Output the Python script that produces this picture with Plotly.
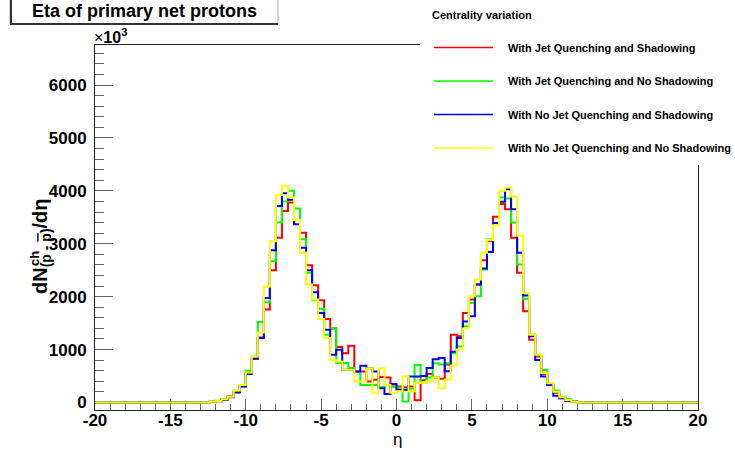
import numpy as np
import plotly.graph_objects as go

# ---------------- data ----------------
eta_lo, eta_hi, n_bins = -20.0, 20.0, 100
first_nonzero_bin = 19          # bin starting at eta = -12.4 (bins of width 0.4)

series_names = [
    "With Jet Quenching and Shadowing",
    "With Jet Quenching and No Shadowing",
    "With No Jet Quenching and Shadowing",
    "With No Jet Quenching and No Shadowing",
]
series_colors = ["#ff0000", "#00ff00", "#0000ff", "#ffff00"]

jq_sh = [10, 30, 60, 120, 200, 330, 560, 820, 1230, 1755, 2500, 3115, 3620, 3780, 3450, 3210,
         2595, 2215, 1930, 1580, 1400, 1050, 930, 1070, 585, 585, 395, 430, 480, 470, 300,
         300, 290, 300, 40, 420, 540, 470, 450, 720, 1280, 1250, 1690, 1945, 2230, 2690,
         3050, 3510, 3750, 3650, 3115, 2450, 1725, 1185, 870, 540, 330, 185, 80, 35, 16, 5]
jq_nosh = [15, 35, 55, 110, 220, 300, 600, 870, 1520, 1895, 2670, 3400, 3800, 4000, 3665, 3085,
           2450, 1930, 1770, 1280, 1400, 745, 745, 650, 585, 330, 330, 330, 290, 330, 300,
           280, 20, 260, 710, 380, 470, 740, 720, 740, 930, 1060, 1440, 1880, 2010, 2515,
           3080, 3390, 3875, 3855, 3400, 2610, 1960, 1280, 900, 615, 365, 225, 110, 60, 22, 8]
nojq_sh = [12, 25, 50, 100, 190, 300, 540, 830, 1220, 1975, 2875, 3715, 3955, 3830, 3370, 2925,
           2500, 2085, 1690, 1376, 900, 996, 617, 617, 585, 693, 648, 585, 270, 160, 350,
           240, 240, 490, 490, 500, 650, 815, 840, 590, 960, 1220, 1530, 1630, 2230, 2530,
           2845, 3390, 3795, 4030, 3650, 2830, 2020, 1250, 805, 490, 330, 125, 80, 35, 16, 5]
nojq_nosh = [15, 30, 60, 110, 225, 330, 565, 870, 1325, 2185, 3045, 3920, 4095, 3875, 3450, 2830,
             2230, 1945, 1580, 1220, 800, 775, 617, 617, 395, 395, 648, 186, 648, 332, 186,
             210, 490, 210, 370, 380, 400, 470, 270, 430, 700, 1000, 1400, 2010, 2325, 2830,
             3070, 3350, 4000, 4065, 3895, 3150, 2070, 1280, 900, 555, 365, 205, 98, 47, 16, 5]
series_values = [jq_sh, jq_nosh, nojq_sh, nojq_nosh]

x_tick_vals = [-20, -15, -10, -5, 0, 5, 10, 15, 20]
x_tick_text = ["-20", "-15", "-10", "-5", "0", "5", "10", "15", "20"]
y_tick_vals = [0, 1000, 2000, 3000, 4000, 5000, 6000]
y_tick_text = ["0", "1000", "2000", "3000", "4000", "5000", "6000"]
x_minor_step, y_minor_step = 1, 200
y_range = [-142, 6756]

# ---------------- layout geometry ----------------
W, H = 735, 450
ML, MR, MT, MB = 95, 37, 45, 40
PW, PH = W - ML - MR, H - MT - MB
FONT = "Liberation Sans"


def px(xp):
    return (xp - ML) / PW


def py(yp):
    return (H - MB - yp) / PH


edges = np.linspace(eta_lo, eta_hi, n_bins + 1)

fig = go.Figure()
for name, col, vals in zip(series_names, series_colors, series_values):
    full = np.zeros(n_bins)
    full[first_nonzero_bin:first_nonzero_bin + len(vals)] = vals
    # explicit step outline (left edge / right edge of every bin)
    xs = np.repeat(edges, 2)[1:-1]
    ys = np.repeat(full, 2)
    fig.add_trace(go.Scatter(
        x=xs, y=ys, mode="lines", name=name,
        line=dict(color=col, width=2, shape="linear", simplify=False),
        showlegend=False, cliponaxis=False,
    ))

axis_common = dict(
    showline=True, linecolor="#222", linewidth=1, mirror=True,
    ticks="inside", tickcolor="#666", tickwidth=1, layer="below traces",
    showgrid=False, zeroline=False, tickmode="array",
    tickfont=dict(family=FONT, size=17, color="black", weight=700),
)
fig.update_xaxes(range=[eta_lo, eta_hi], tickvals=x_tick_vals, ticktext=x_tick_text, ticklen=11,
                 minor=dict(tick0=0, dtick=x_minor_step, ticks="inside", ticklen=6, tickcolor="#666"),
                 ticklabelstandoff=-5, **axis_common)
fig.update_yaxes(range=y_range, tickvals=y_tick_vals, ticktext=y_tick_text, ticklen=18,
                 minor=dict(tick0=0, dtick=y_minor_step, ticks="inside", ticklen=9, tickcolor="#666"),
                 ticklabelstandoff=4, **axis_common)

shapes = []
# white legend pad covering the frame corner
shapes.append(dict(type="rect", xref="paper", yref="paper", x0=px(420), x1=px(740),
                   y0=py(165), y1=py(-5), fillcolor="white", line=dict(width=0), layer="above"))
# title pave
shapes.append(dict(type="rect", xref="paper", yref="paper", x0=px(10), x1=px(278),
                   y0=py(24), y1=py(-5), fillcolor="white", line=dict(color="#aaaaaa", width=1),
                   layer="above"))
shapes.append(dict(type="line", xref="paper", yref="paper", x0=px(11), x1=px(11),
                   y0=py(24), y1=py(0), line=dict(color="#333", width=2), layer="above"))
shapes.append(dict(type="line", xref="paper", yref="paper", x0=px(10), x1=px(278),
                   y0=py(24), y1=py(24), line=dict(color="#333", width=2), layer="above"))

leg_y = [47.5, 81, 114.5, 148]
annotations = []
for name, col, yy in zip(series_names, series_colors, leg_y):
    shapes.append(dict(type="line", xref="paper", yref="paper", x0=px(434), x1=px(493),
                       y0=py(yy), y1=py(yy), line=dict(color=col, width=1.5), layer="above"))
    annotations.append(dict(x=px(506), y=py(yy), xref="paper", yref="paper", text=name,
                            showarrow=False, xanchor="left", yanchor="middle",
                            font=dict(family=FONT, size=11, color="black", weight=700)))

# y-axis title: main part plus stacked superscript
yt_cx, yt_cy = 41, 246
annotations += [
    dict(x=px(430), y=py(15), xref="paper", yref="paper", text="Centrality variation",
         showarrow=False, xanchor="left", yanchor="middle",
         font=dict(family=FONT, size=11, color="black", weight=700)),
    dict(x=px(144), y=py(11), xref="paper", yref="paper", text="Eta of primary net protons",
         showarrow=False, xanchor="center", yanchor="middle",
         font=dict(family=FONT, size=18, color="black", weight=700)),
    dict(x=px(92), y=py(36), xref="paper", yref="paper", text="×<b>10<sup>3</sup></b>",
         showarrow=False, xanchor="left", yanchor="middle",
         font=dict(family=FONT, size=16, color="black")),
    dict(x=px(397), y=py(439), xref="paper", yref="paper", text="η",
         showarrow=False, xanchor="center", yanchor="middle", borderpad=0,
         font=dict(family=FONT, size=17, color="black")),
    dict(x=px(yt_cx), y=py(yt_cy), xref="paper", yref="paper",
         text="dN<sub>(p - <span style='text-decoration:overline'>p</span>)</sub>/dη",
         textangle=-90,
         showarrow=False, xanchor="center", yanchor="middle",
         font=dict(family=FONT, size=20, color="black", weight=700)),
    dict(x=px(yt_cx - 7), y=py(yt_cy + 48 - 27 - 8), xref="paper", yref="paper",
         text="ch", textangle=-90,
         showarrow=False, xanchor="center", yanchor="middle",
         font=dict(family=FONT, size=13, color="black", weight=700)),
]

fig.update_layout(
    width=W, height=H, margin=dict(l=ML, r=MR, t=MT, b=MB, autoexpand=False),
    paper_bgcolor="white", plot_bgcolor="white", showlegend=False,
    shapes=shapes, annotations=annotations,
)
fig.write_html("out.html")
